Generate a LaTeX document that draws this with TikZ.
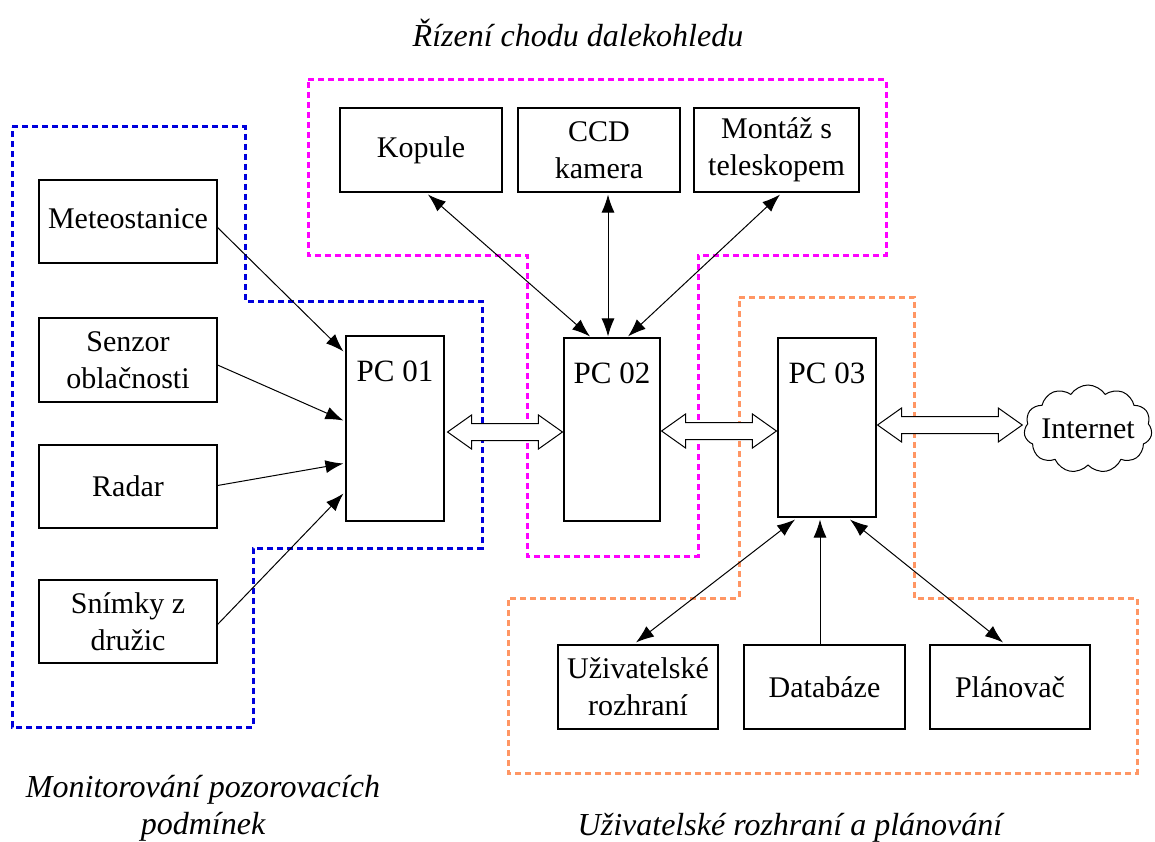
\documentclass[tikz,border=0pt]{standalone}
\usepackage{fontspec}
\setmainfont{Liberation Serif}
\usetikzlibrary{arrows.meta,calc,shapes.symbols}
\newcommand\hollowdbl[2]{%
  \draw[dblarr] (#1) -- ($(#1)+(24,-17)$) -- ($(#1)+(24,-8.5)$) -- ($(#2)+(-24,-8.5)$)
   -- ($(#2)+(-24,-17)$) -- (#2) -- ($(#2)+(-24,17)$) -- ($(#2)+(-24,8.5)$)
   -- ($(#1)+(24,8.5)$) -- ($(#1)+(24,17)$) -- cycle;}
\begin{document}
\begin{tikzpicture}[x=1pt,y=-1pt,
  box/.style={draw, line width=1.1pt, inner sep=2pt, align=center,
    font=\fontsize{30}{37}\selectfont},
  pclab/.style={anchor=north, yshift=-22pt, font=\fontsize{31}{37}\selectfont},
  arr/.style={line width=1pt, -{Latex[length=18pt,width=13pt]}},
  darr/.style={line width=1pt, {Latex[length=18pt,width=13pt]}-{Latex[length=18pt,width=13pt]}},
  dblarr/.style={line width=1pt, fill=white},
  lab/.style={font=\fontsize{32}{37}\selectfont\itshape, align=center},
  grp/.style={line width=3pt, dash pattern=on 6pt off 4pt},
]
\useasboundingbox (0,0) rectangle (1155,842);

% group outlines
\draw[grp, draw={rgb,255:red,0;green,0;blue,220}] (12,127) -- (245,127) -- (245,301) -- (482,301) -- (482,548) -- (253,548) -- (253,727) -- (12,727) -- cycle;
\draw[grp, draw={rgb,255:red,255;green,0;blue,255}] (308,80) -- (886,80) -- (886,255) -- (698,255) -- (698,556) -- (527,556) -- (527,255) -- (308,255) -- cycle;
\draw[grp, draw={rgb,255:red,255;green,150;blue,100}] (739,297) -- (914,297) -- (914,598) -- (1137,598) -- (1137,773) -- (508,773) -- (508,598) -- (739,598) -- cycle;

% boxes
\node[box, minimum width=178, minimum height=83] (met) at (128,221.5) {Meteostanice\vphantom{g}};
\node[box, minimum width=178, minimum height=84] (sen) at (128,360) {Senzor\\oblačnosti};
\node[box, minimum width=178, minimum height=83] (rad) at (128,486.5) {Radar};
\node[box, minimum width=178, minimum height=83] (sni) at (128,621.5) {Snímky z\\družic};

\node[box, minimum width=98, minimum height=185, label={[pclab]north:PC 01}] (pc1) at (395,428.5) {};
\node[box, minimum width=96, minimum height=183, label={[pclab]north:PC 02}] (pc2) at (612,429.5) {};
\node[box, minimum width=98, minimum height=179, label={[pclab]north:PC 03}] (pc3) at (827,427.5) {};

\node[box, minimum width=162, minimum height=84] (kop) at (421,150) {Kopule};
\node[box, minimum width=162, minimum height=84] (ccd) at (599,150) {CCD\\kamera};
\node[box, minimum width=165, minimum height=84] (mon) at (776.5,150) {Montáž s\\teleskopem};

\node[box, minimum width=160, minimum height=84] (uzi) at (638,687) {Uživatelské\\rozhraní};
\node[box, minimum width=161, minimum height=84] (dat) at (824.5,687) {Databáze};
\node[box, minimum width=160, minimum height=84] (pla) at (1010,687) {Plánovač};

\node[cloud, draw, line width=1pt, cloud puffs=11, cloud puff arc=115, aspect=1.5,
  minimum width=128, minimum height=88, inner sep=0pt] (net) at (1088,429) {};
\node[font=\fontsize{30}{37}\selectfont] (nettxt) at (net.center) {Internet};

% arrows into PC 01
\draw[arr] ($(met.east)+(0,6)$) -- ($(pc1.north west)+(-2,16)$);
\draw[arr] ($(sen.east)+(0,5)$) -- ($(pc1.west)+(-2,-8)$);
\draw[arr] ($(rad.east)+(0,-1)$) -- ($(pc1.west)+(-2,35)$);
\draw[arr] ($(sni.east)+(0,3)$) -- ($(pc1.west)+(-2,65)$);

% arrows PC 02
\draw[darr] ($(kop.south)+(7,2)$) -- ($(pc2.north)+(-22,-1)$);
\draw[darr] ($(ccd.south)+(9,2)$) -- ($(pc2.north)+(-4,-1)$);
\draw[darr] ($(mon.south)+(3.5,2)$) -- ($(pc2.north)+(16,-1)$);

% arrows PC 03
\draw[darr] ($(uzi.north)+(-2,-2)$) -- ($(pc3.south)+(-32,2)$);
\draw[arr] ($(dat.north)+(-4.5,0)$) -- ($(pc3.south)+(-7,2)$);
\draw[darr] ($(pla.north)+(-7,-2)$) -- ($(pc3.south)+(23,2)$);

% hollow double arrows
\coordinate (a1) at ($(pc1.east)+(3,3.5)$);
\coordinate (a2) at ($(pc2.west)+(-1,2.5)$);
\coordinate (b1) at ($(pc2.east)+(1,1.5)$);
\coordinate (b2) at ($(pc3.west)+(-1,3.5)$);
\coordinate (c1) at ($(pc3.east)+(1,-2.5)$);
\coordinate (c2) at ($(net.west)+(-2,-4)$);
\hollowdbl{a1}{a2}
\hollowdbl{b1}{b2}
\hollowdbl{c1}{c2}

% group labels
\node[lab] (l1) at (578,33) {Řízení chodu dalekohledu};
\node[lab] (l2) at (203,808) {Monitorování pozorovacích\\podmínek};
\node[lab] (l3) at (790,828) {Uživatelské rozhraní a plánování};
\end{tikzpicture}
\end{document}
